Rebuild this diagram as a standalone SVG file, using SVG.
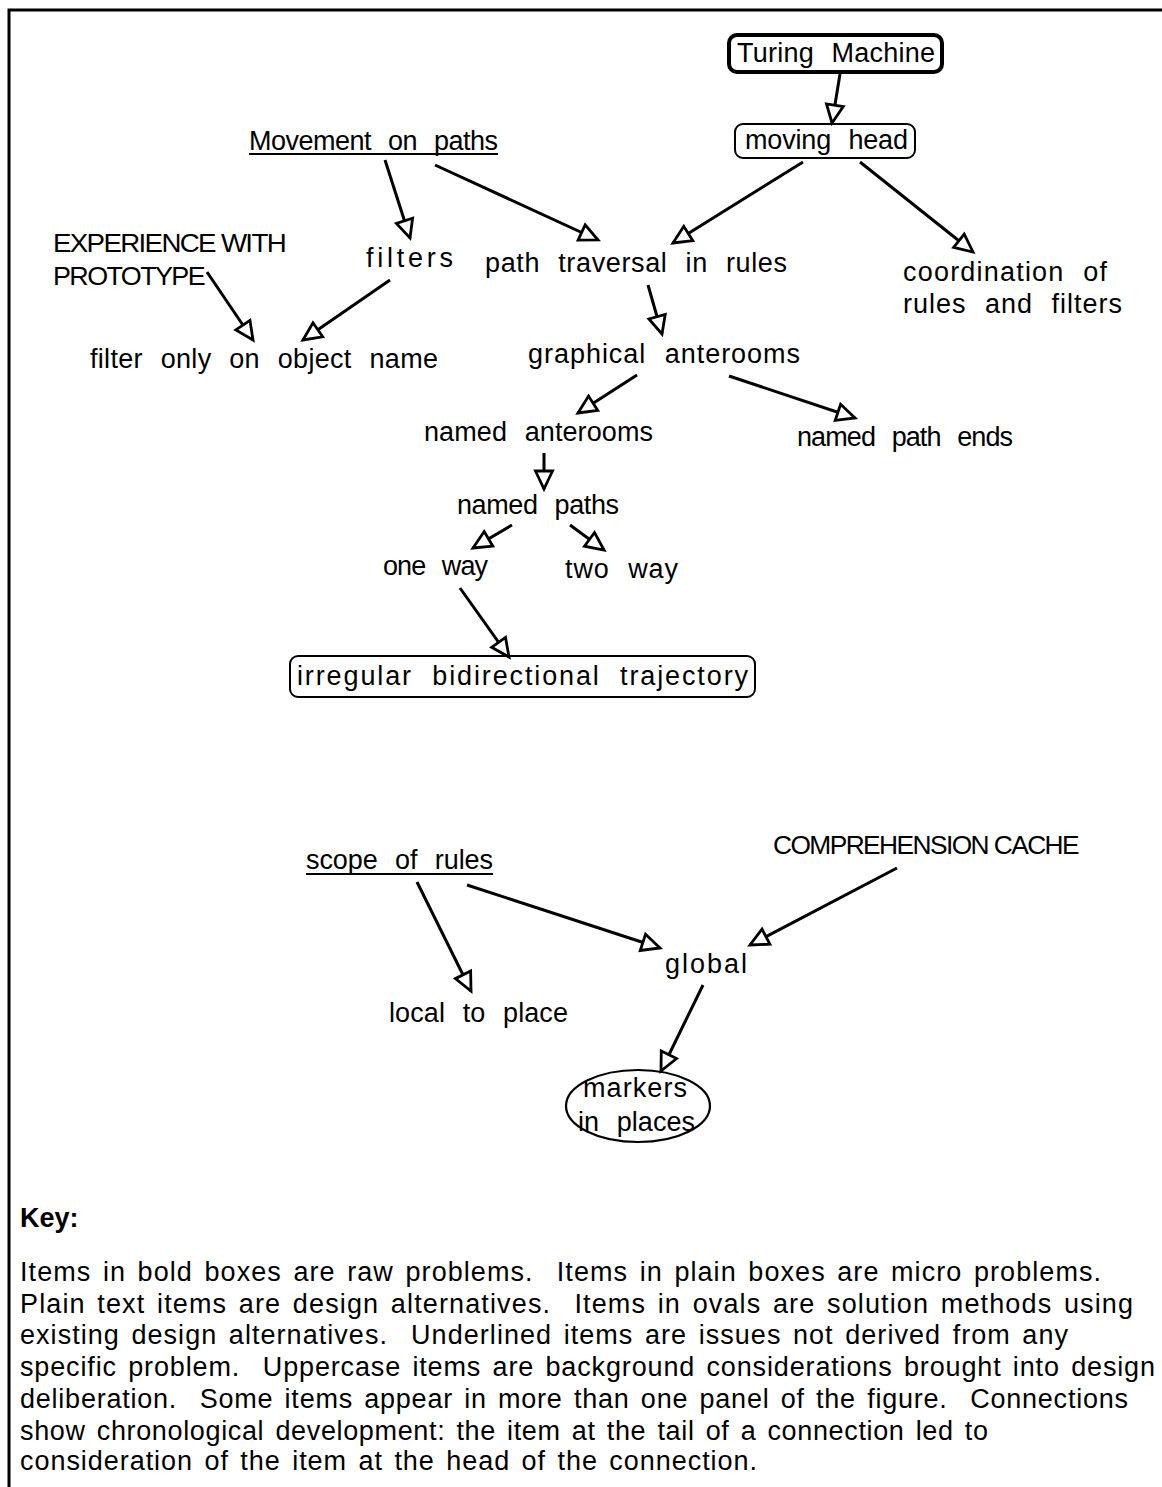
<svg xmlns="http://www.w3.org/2000/svg" width="1162" height="1487" viewBox="0 0 1162 1487">
  <style>
    text { font-family: "Liberation Sans", Arial, Helvetica, sans-serif; font-size: 27px; fill: #000; word-spacing: 10px; }
    .caps { font-size: 25px; letter-spacing: -1.5px; word-spacing: 0; }
    .spread { letter-spacing: 3px; }
    .legend text { font-size: 27px; word-spacing: 3px; white-space: pre; }
    .legend .key { font-weight: bold; }
    .bold-box { fill: none; stroke: #000; stroke-width: 4; }
    .plain-box { fill: none; stroke: #000; stroke-width: 2; }
    .oval { fill: none; stroke: #000; stroke-width: 2.2; }
    .underline { stroke: #000; stroke-width: 2; }
    .frame { fill: none; stroke: #000; stroke-width: 3; }
    #connectors line { stroke: #000; stroke-width: 3; marker-end: url(#open-head); }
  </style>
  <defs>
    <marker id="open-head" viewBox="-22 -12 26 24" refX="0" refY="0" markerWidth="26" markerHeight="24" markerUnits="userSpaceOnUse" orient="auto">
      <path d="M0,0 L-18,-8.5 L-18,8.5 Z" fill="#fff" stroke="#000" stroke-width="2.8" stroke-linejoin="miter"/>
    </marker>
  </defs>

  <rect width="1162" height="1487" fill="#fff"/>

  <!-- outer frame: top and left edges only -->
  <path class="frame" d="M9,1487 V10 H1162"/>

  <!-- connectors -->
  <g id="connectors">
    <line x1="840" y1="74" x2="832" y2="123"/>
    <line x1="385" y1="160" x2="410" y2="238"/>
    <line x1="435" y1="165" x2="598" y2="240"/>
    <line x1="803" y1="162" x2="673" y2="243"/>
    <line x1="860" y1="162" x2="973" y2="252"/>
    <line x1="207" y1="272" x2="253" y2="340"/>
    <line x1="390" y1="280" x2="303" y2="340"/>
    <line x1="648" y1="285" x2="662" y2="334"/>
    <line x1="637" y1="375" x2="578" y2="413"/>
    <line x1="729" y1="376" x2="855" y2="418"/>
    <line x1="544" y1="453" x2="544" y2="489"/>
    <line x1="512" y1="525" x2="473" y2="548"/>
    <line x1="570" y1="525" x2="604" y2="550"/>
    <line x1="460" y1="588" x2="509" y2="657"/>
    <line x1="417" y1="882" x2="471" y2="991"/>
    <line x1="467" y1="885" x2="660" y2="948"/>
    <line x1="897" y1="868" x2="750" y2="945"/>
    <line x1="703" y1="985" x2="661" y2="1071"/>
  </g>

  <!-- upper panel -->
  <g id="turing-machine">
    <rect class="bold-box" x="729" y="35" width="213" height="37" rx="8"/>
    <text x="737" y="62" textLength="198" lengthAdjust="spacing">Turing Machine</text>
  </g>
  <g id="moving-head">
    <rect class="plain-box" x="735" y="124" width="180" height="34" rx="8"/>
    <text x="745" y="149" textLength="163" lengthAdjust="spacing">moving head</text>
  </g>
  <g id="movement-on-paths">
    <text x="249" y="150" textLength="249" lengthAdjust="spacing">Movement on paths</text>
    <line class="underline" x1="249" y1="154" x2="498" y2="154"/>
  </g>
  <g id="experience-with-prototype">
    <text class="caps" x="53" y="252" textLength="232" lengthAdjust="spacingAndGlyphs">EXPERIENCE WITH</text>
    <text class="caps" x="53" y="285" textLength="151" lengthAdjust="spacingAndGlyphs">PROTOTYPE</text>
  </g>
  <g id="filters">
    <text class="spread" x="366" y="267" textLength="90" lengthAdjust="spacing">filters</text>
  </g>
  <g id="path-traversal-in-rules">
    <text x="485" y="272" textLength="302" lengthAdjust="spacing">path traversal in rules</text>
  </g>
  <g id="coordination">
    <text x="903" y="281" textLength="204" lengthAdjust="spacing">coordination of</text>
    <text x="903" y="313" textLength="219" lengthAdjust="spacing">rules and filters</text>
  </g>
  <g id="filter-only-on-object-name">
    <text x="90" y="368" textLength="348" lengthAdjust="spacing">filter only on object name</text>
  </g>
  <g id="graphical-anterooms">
    <text x="528" y="363" textLength="272" lengthAdjust="spacing">graphical anterooms</text>
  </g>
  <g id="named-anterooms">
    <text x="424" y="441" textLength="229" lengthAdjust="spacing">named anterooms</text>
  </g>
  <g id="named-path-ends">
    <text x="797" y="446" textLength="216" lengthAdjust="spacing">named path ends</text>
  </g>
  <g id="named-paths">
    <text x="457" y="514" textLength="162" lengthAdjust="spacing">named paths</text>
  </g>
  <g id="one-way">
    <text x="383" y="575" textLength="105" lengthAdjust="spacing">one way</text>
  </g>
  <g id="two-way">
    <text x="565" y="578" textLength="113" lengthAdjust="spacing">two way</text>
  </g>
  <g id="irregular-bidirectional-trajectory">
    <rect class="plain-box" x="290" y="656" width="465" height="41" rx="8"/>
    <text x="297" y="685" textLength="451" lengthAdjust="spacing">irregular bidirectional trajectory</text>
  </g>

  <!-- lower panel -->
  <g id="scope-of-rules">
    <text x="306" y="869" textLength="187" lengthAdjust="spacing">scope of rules</text>
    <line class="underline" x1="306" y1="874" x2="493" y2="874"/>
  </g>
  <g id="comprehension-cache">
    <text class="caps" x="773" y="854" textLength="305" lengthAdjust="spacingAndGlyphs">COMPREHENSION CACHE</text>
  </g>
  <g id="global">
    <text x="665" y="973" textLength="82" lengthAdjust="spacing">global</text>
  </g>
  <g id="local-to-place">
    <text x="389" y="1022" textLength="179" lengthAdjust="spacing">local to place</text>
  </g>
  <g id="markers-in-places">
    <ellipse class="oval" cx="638" cy="1106" rx="72" ry="36"/>
    <text x="583" y="1097" textLength="104" lengthAdjust="spacing">markers</text>
    <text x="578" y="1131" textLength="117" lengthAdjust="spacing">in places</text>
  </g>

  <!-- legend -->
  <g id="key" class="legend">
    <text class="key" x="20" y="1227">Key:</text>
    <text xml:space="preserve" x="20" y="1281" textLength="1081" lengthAdjust="spacing">Items in bold boxes are raw problems.  Items in plain boxes are micro problems.</text>
    <text xml:space="preserve" x="20" y="1313" textLength="1113" lengthAdjust="spacing">Plain text items are design alternatives.  Items in ovals are solution methods using</text>
    <text xml:space="preserve" x="20" y="1344" textLength="1048" lengthAdjust="spacing">existing design alternatives.  Underlined items are issues not derived from any</text>
    <text xml:space="preserve" x="20" y="1376" textLength="1135" lengthAdjust="spacing">specific problem.  Uppercase items are background considerations brought into design</text>
    <text xml:space="preserve" x="20" y="1408" textLength="1108" lengthAdjust="spacing">deliberation.  Some items appear in more than one panel of the figure.  Connections</text>
    <text xml:space="preserve" x="20" y="1440" textLength="968" lengthAdjust="spacing">show chronological development: the item at the tail of a connection led to</text>
    <text xml:space="preserve" x="20" y="1470" textLength="737" lengthAdjust="spacing">consideration of the item at the head of the connection.</text>
  </g>
</svg>
